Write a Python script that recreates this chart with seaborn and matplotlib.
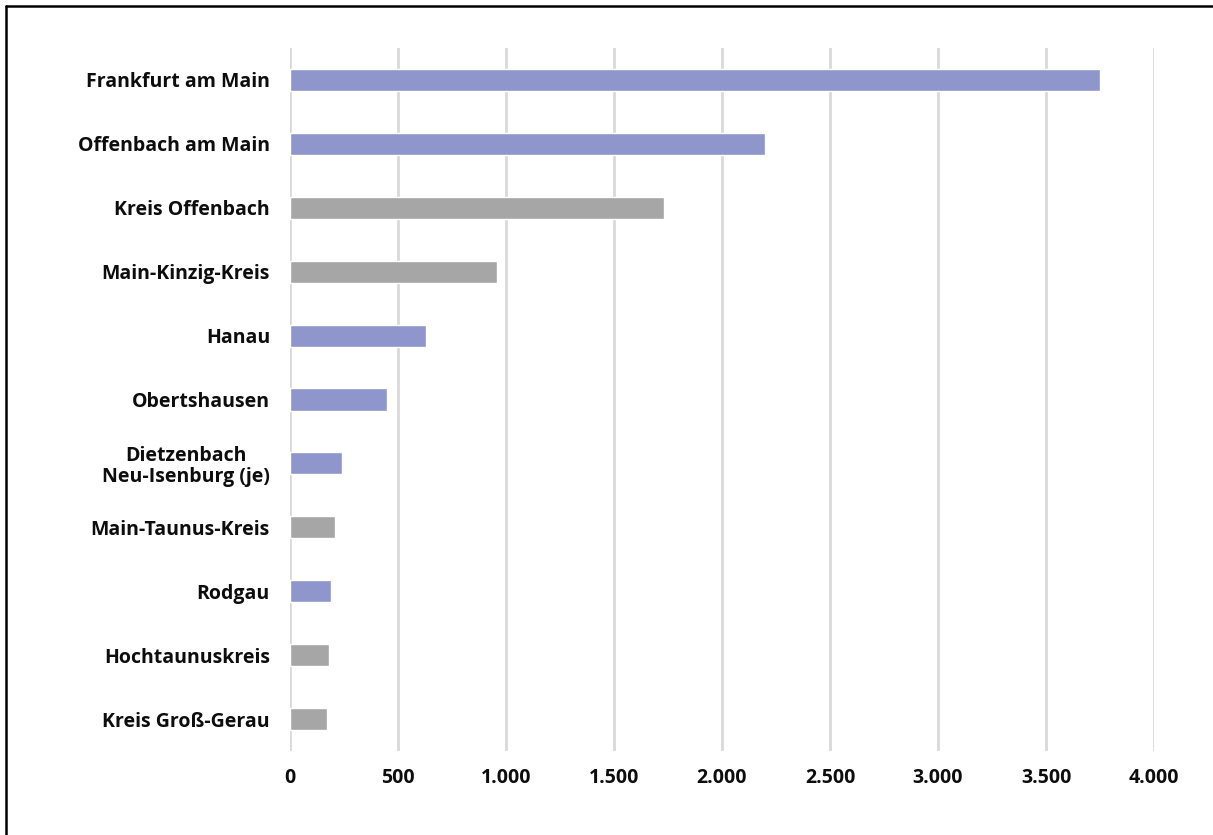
import matplotlib
matplotlib.use("Agg")
import matplotlib.pyplot as plt
from matplotlib.lines import Line2D
from matplotlib.ticker import FuncFormatter
import seaborn as sns
import pandas as pd

regions = [
    "Frankfurt am Main",
    "Offenbach am Main",
    "Kreis Offenbach",
    "Main-Kinzig-Kreis",
    "Hanau",
    "Obertshausen",
    "Dietzenbach\nNeu-Isenburg (je)",
    "Main-Taunus-Kreis",
    "Rodgau",
    "Hochtaunuskreis",
    "Kreis Groß-Gerau",
]
values = [3750, 2200, 1730, 960, 630, 450, 240, 210, 190, 180, 170]
kinds = ["Stadt", "Stadt", "Kreis", "Kreis", "Stadt", "Stadt",
         "Stadt", "Kreis", "Stadt", "Kreis", "Kreis"]
x_ticks = [0, 500, 1000, 1500, 2000, 2500, 3000, 3500, 4000]

df = pd.DataFrame({"region": regions, "value": values, "kind": kinds})
palette = {"Stadt": "#8f96cb", "Kreis": "#a6a6a6"}

sns.set_theme(style="white")
plt.rcParams["font.family"] = ["Open Sans", "DejaVu Sans"]

W, H = 1213, 835
fig = plt.figure(figsize=(W / 100, H / 100), dpi=100)
ax = fig.add_axes([290 / W, 1 - 751 / H, (1154 - 290) / W, (751 - 48) / H])

sns.barplot(data=df, x="value", y="region", hue="kind", palette=palette,
            dodge=False, width=0.345, legend=False, ax=ax, orient="h",
            saturation=1)

ax.set_xlim(0, 4000)
ax.set_ylim(10.5, -0.5)
ax.set_xticks(x_ticks)
ax.xaxis.set_major_formatter(
    FuncFormatter(lambda v, p: f"{int(v):,}".replace(",", ".")))
ax.grid(axis="x", color="#d9d9d9", linewidth=2)
ax.set_axisbelow(True)
for s in ax.spines.values():
    s.set_visible(False)
ax.set_xlabel("")
ax.set_ylabel("")
ax.tick_params(axis="both", length=0, labelsize=14, colors="#0d0d0d")
ax.tick_params(axis="x", pad=12.5)
ax.tick_params(axis="y", pad=14.4)
for lbl in ax.get_yticklabels() + ax.get_xticklabels():
    lbl.set_fontweight("bold")
for lbl in ax.get_yticklabels():
    lbl.set_multialignment("center")
    lbl.set_linespacing(1.05)

# frame lines along the top and left edge of the figure
fig.add_artist(Line2D([6 / W, 6 / W], [0, 1 - 6 / H], color="black",
                      linewidth=1.8, transform=fig.transFigure))
fig.add_artist(Line2D([6 / W, 1], [1 - 6 / H, 1 - 6 / H], color="black",
                      linewidth=1.8, transform=fig.transFigure))

fig.savefig("out.png", dpi=100)
